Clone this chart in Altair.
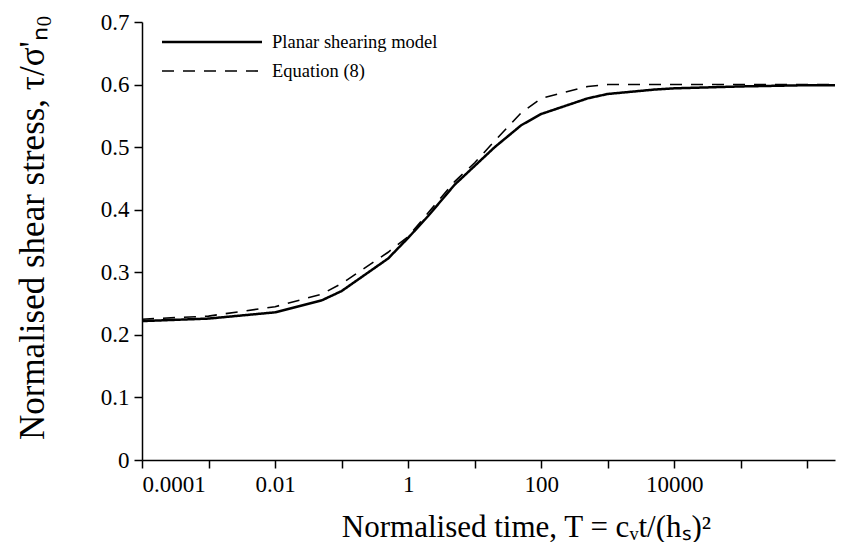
import altair as alt
import pandas as pd

# ---- data ----
T = [1e-4, 1e-3, 0.01, 0.05, 0.1, 0.5, 1, 2, 5, 10, 20, 50, 100, 500,
     1000, 5000, 1e4, 1e5, 1e6, 2.6e6]
planar = [0.222, 0.226, 0.236, 0.255, 0.270, 0.322, 0.355, 0.390, 0.440,
          0.470, 0.500, 0.535, 0.553, 0.578, 0.585, 0.592, 0.594, 0.597,
          0.599, 0.599]
equation8 = [0.225, 0.230, 0.245, 0.265, 0.282, 0.332, 0.357, 0.395, 0.445,
             0.475, 0.510, 0.555, 0.578, 0.597, 0.600, 0.600, 0.600, 0.600,
             0.600, 0.600]
series_names = ["Planar shearing model", "Equation (8)"]

x_ticks = [1e-4, 1e-3, 1e-2, 1e-1, 1, 10, 100, 1000, 1e4, 1e5, 1e6]
x_labeled = [0.0001, 0.01, 1, 100, 10000]
y_ticks = [0, 0.1, 0.2, 0.3, 0.4, 0.5, 0.6, 0.7]

rows = []
for t, v in zip(T, planar):
    rows.append({"T": t, "tau": v, "series": series_names[0]})
for t, v in zip(T, equation8):
    rows.append({"T": t, "tau": v, "series": series_names[1]})
df = pd.DataFrame(rows)

FONT = "Liberation Serif"
DASH = [12, 9]
labeled_js = "[" + ",".join(repr(v) for v in x_labeled) + "]"

lines = (
    alt.Chart(df)
    .mark_line(color="black")
    .encode(
        x=alt.X(
            "T:Q",
            scale=alt.Scale(type="log", domain=[1e-4, 2.6e6], nice=False),
            axis=alt.Axis(
                title="Normalised time, T = cᵥt/(hₛ)²",
                values=x_ticks,
                labelExpr=f"indexof({labeled_js}, datum.value) >= 0 ? format(datum.value, '~g') : ''",
                labelOverlap=False,
                titlePadding=16,
                titleX=384,
                titleFontSize=31,
            ),
        ),
        y=alt.Y(
            "tau:Q",
            scale=alt.Scale(domain=[0, 0.7], nice=False, zero=True),
            axis=alt.Axis(
                title="Normalised shear stress, τ/σ'ₙ₀",
                values=y_ticks,
                format="~g",
                titlePadding=50,
                titleY=205,
                titleFontSize=35,
            ),
        ),
        strokeDash=alt.StrokeDash(
            "series:N",
            scale=alt.Scale(domain=series_names, range=[[1, 0], DASH]),
            legend=None,
        ),
        strokeWidth=alt.StrokeWidth(
            "series:N",
            scale=alt.Scale(domain=series_names, range=[2.5, 1.6]),
            legend=None,
        ),
        order=alt.Order("T:Q"),
    )
)

# manual legend (top-left inside the plot), one row of data per mark
leg1 = pd.DataFrame({"series": [series_names[0]]})
leg2 = pd.DataFrame({"series": [series_names[1]]})
Y1, Y2 = 20, 49
leg_solid = alt.Chart(leg1).mark_rule(color="black", strokeWidth=2.5).encode(
    x=alt.value(20), x2=alt.value(120), y=alt.value(Y1)
)
leg_dash = alt.Chart(leg2).mark_rule(color="black", strokeWidth=1.6, strokeDash=DASH).encode(
    x=alt.value(20), x2=alt.value(120), y=alt.value(Y2)
)
leg_text1 = alt.Chart(leg1).mark_text(
    align="left", baseline="middle", font=FONT, fontSize=18.5, color="black"
).encode(x=alt.value(130), y=alt.value(Y1), text="series:N")
leg_text2 = alt.Chart(leg2).mark_text(
    align="left", baseline="middle", font=FONT, fontSize=18.5, color="black"
).encode(x=alt.value(130), y=alt.value(Y2), text="series:N")

chart = (
    alt.layer(lines, leg_solid, leg_dash, leg_text1, leg_text2)
    .properties(
        width=693,
        height=438,
        padding={"left": 134, "top": 14, "right": 5, "bottom": 82},
        autosize="none",
    )
    .configure_view(stroke=None)
    .configure_axis(
        grid=False,
        domainColor="black",
        domainWidth=1.5,
        tickColor="black",
        tickWidth=1.5,
        tickSize=8,
        labelFont=FONT,
        labelFontSize=23,
        labelColor="black",
        labelPadding=5,
        titleFont=FONT,
        titleFontWeight="normal",
        titleColor="black",
    )
)

chart.save("out.html", embed_options={"renderer": "svg", "actions": False})
